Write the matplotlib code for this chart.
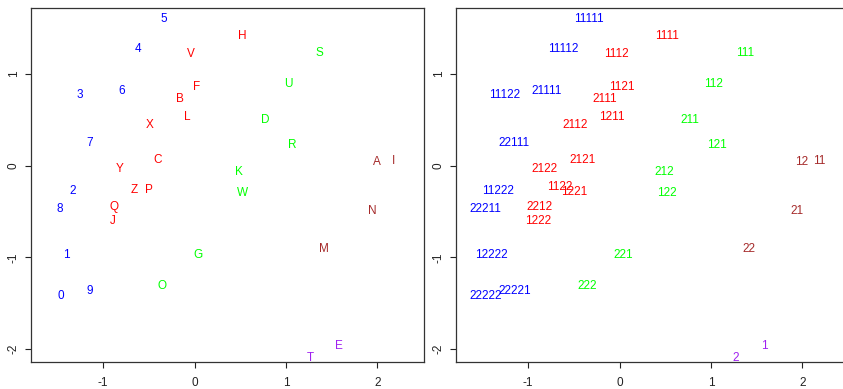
import matplotlib
matplotlib.use('Agg')

import numpy as np
import matplotlib.pyplot as plt

# MDS coordinates of the Morse code symbols
letters = ['5', 'H', '4', 'V', 'S', 'U', 'F', '3', '6', 'B', 'L', 'X', 'D', '7', 'R',
           'C', 'Y', 'K', 'A', 'I', '2', 'Z', 'P', 'W', '8', 'Q', 'J', 'N', '1', 'G',
           'M', 'O', '9', '0', 'E', 'T']
codes = ['11111', '1111', '11112', '1112', '111', '112', '1121', '11122', '21111', '2111',
         '1211', '2112', '211', '22111', '121', '2121', '2122', '212', '12', '11',
         '11222', '1122', '1221', '122', '22211', '2212', '1222', '21', '12222', '221',
         '22', '222', '22221', '22222', '1', '2']
xs = [-0.34, 0.52, -0.62, -0.04, 1.37, 1.03, 0.02, -1.26, -0.80, -0.16,
      -0.08, -0.49, 0.77, -1.15, 1.07, -0.40, -0.82, 0.49, 1.99, 2.18,
      -1.33, -0.66, -0.50, 0.52, -1.47, -0.88, -0.89, 1.94, -1.40, 0.04,
      1.42, -0.36, -1.15, -1.46, 1.58, 1.27]
ys = [1.62, 1.43, 1.29, 1.24, 1.25, 0.91, 0.87, 0.79, 0.83, 0.74,
      0.55, 0.46, 0.52, 0.26, 0.24, 0.08, -0.02, -0.05, 0.06, 0.07,
      -0.26, -0.25, -0.25, -0.28, -0.45, -0.43, -0.59, -0.48, -0.96, -0.96,
      -0.89, -1.29, -1.35, -1.40, -1.95, -2.08]
# right panel: same points, only 1122 / 1221 sit slightly apart
ys_codes = list(ys)
ys_codes[21] = -0.22
ys_codes[22] = -0.27

# colour by code length
len_colors = {1: '#A020F0', 2: '#A52A2A', 3: '#00FF00', 4: '#FF0000', 5: '#0000FF'}

plt.rcParams['font.family'] = ['Liberation Sans', 'DejaVu Sans']

fig = plt.figure(figsize=(8.43, 3.89), dpi=100)
W, H = 843.0, 389.0
axw = 393 / W
axh = (362 - 8) / H
ax1 = fig.add_axes([31 / W, 1 - 362 / H, axw, axh])
ax2 = fig.add_axes([456 / W, 1 - 362 / H, axw, axh])

for ax, labs, yy in [(ax1, letters, ys), (ax2, codes, ys_codes)]:
    for lab, code, x, y in zip(labs, codes, xs, yy):
        ax.text(x, y, lab, color=len_colors[len(code)], fontsize=8.5,
                ha='center', va='center_baseline')
    ax.set_xlim(-1.79, 2.51)
    ax.set_ylim(-2.14, 1.72)
    ax.set_xticks([-1, 0, 1, 2])
    ax.set_yticks([-2, -1, 0, 1])
    ax.set_xticklabels(['-1', '0', '1', '2'])
    ax.set_yticklabels(['-2', '-1', '0', '1'], rotation=90, va='center')
    ax.tick_params(direction='out', length=4, width=0.8, labelsize=8.5,
                   colors='#222222')
    ax.tick_params(axis='x', pad=7)
    ax.tick_params(axis='y', pad=4)
    for s in ax.spines.values():
        s.set_linewidth(0.9)
        s.set_color('#333333')

fig.savefig('out.png', dpi=100)
